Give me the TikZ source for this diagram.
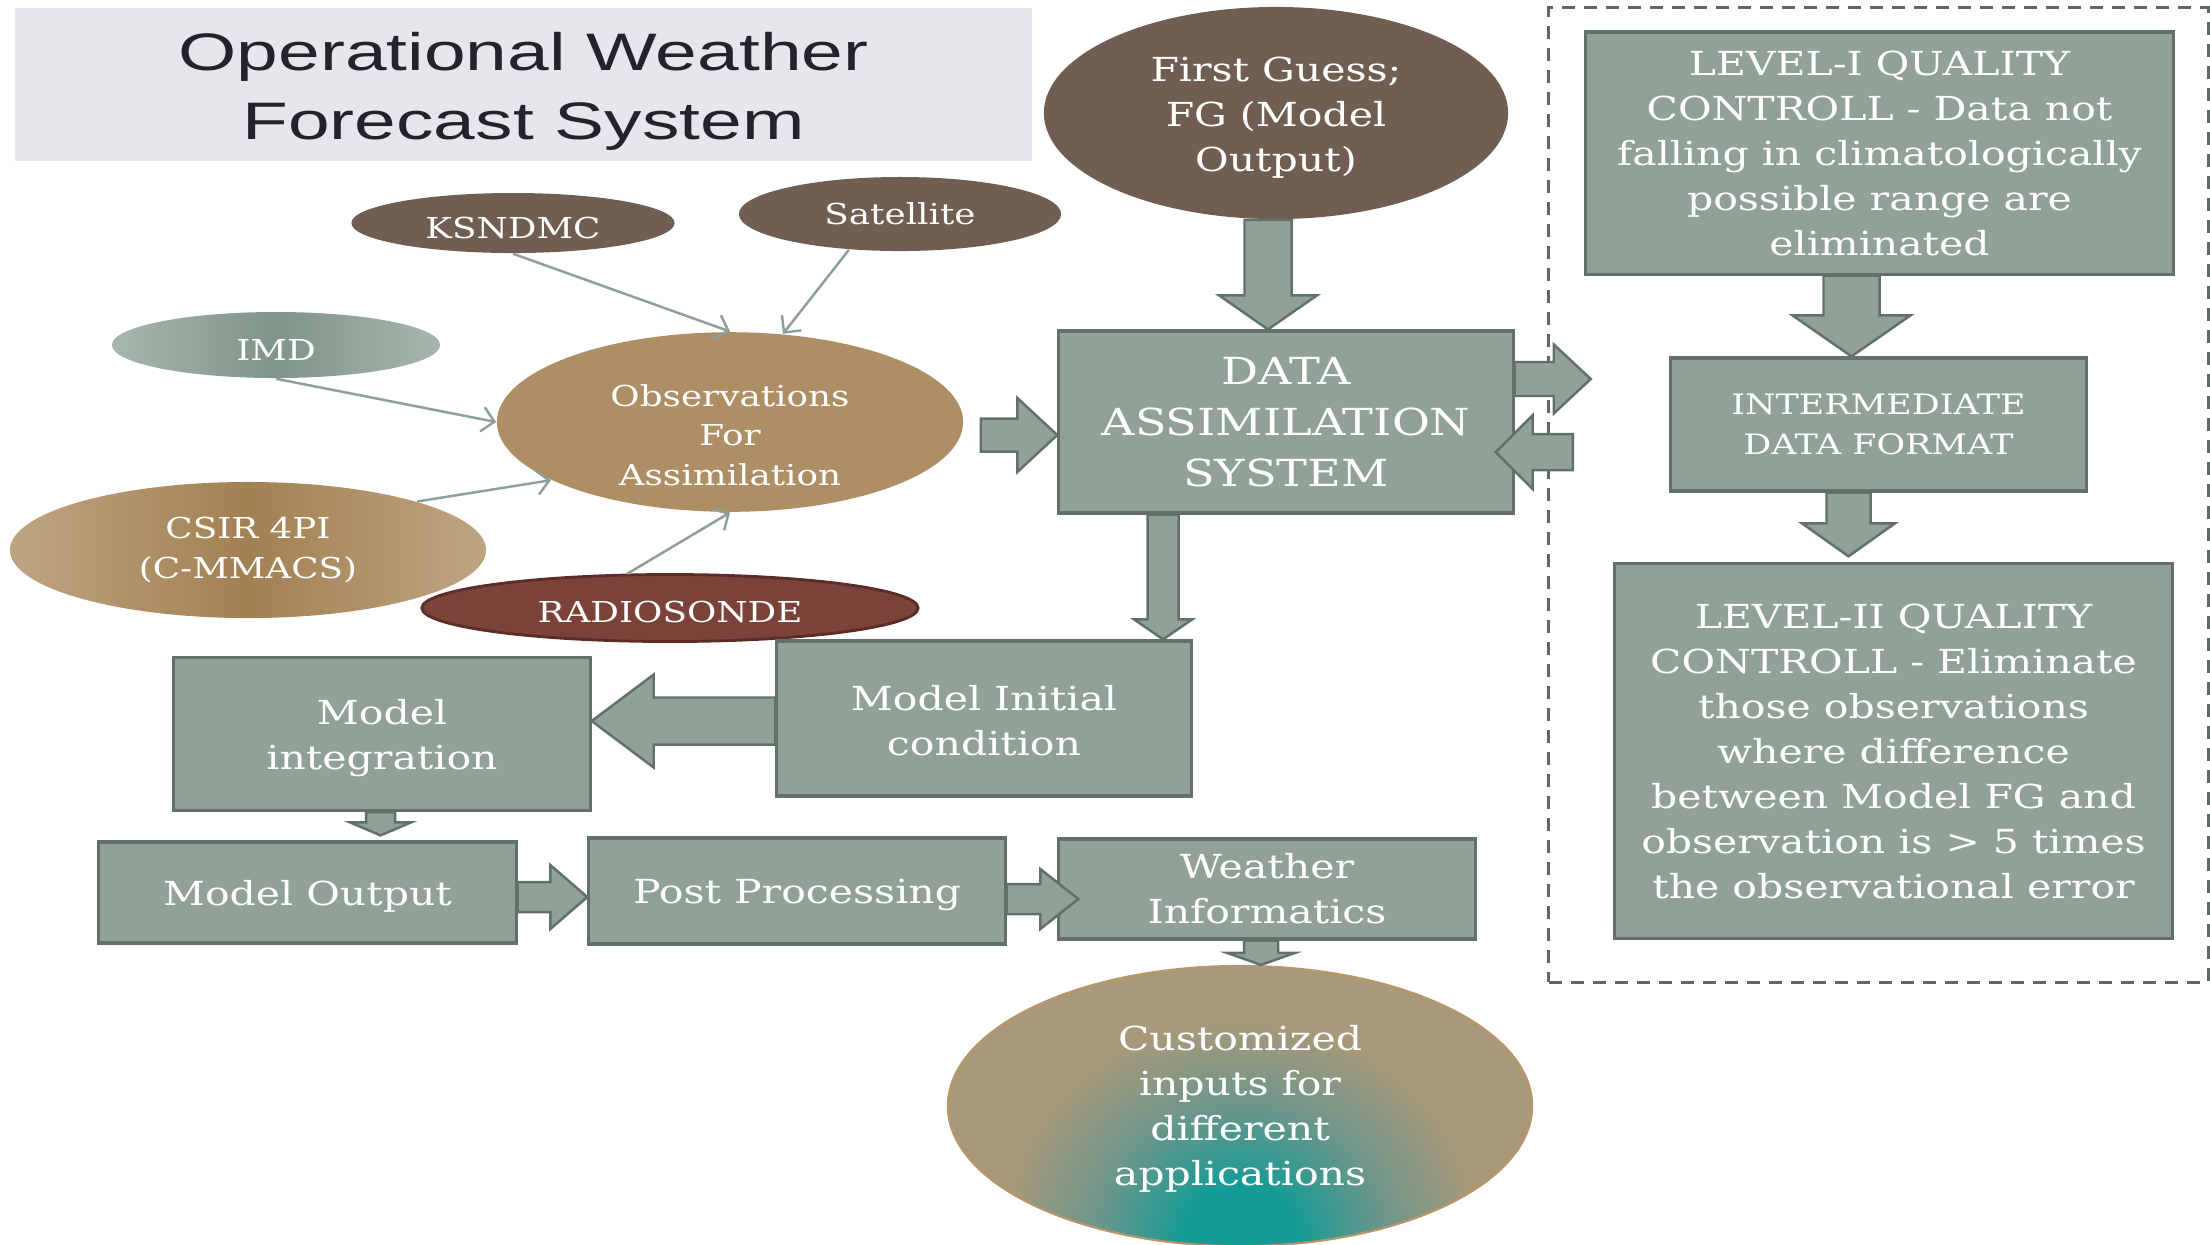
\documentclass[tikz,border=0pt]{standalone}
\usepackage{fontspec}
\setmainfont[FakeStretch=1.24]{DejaVu Serif}
\newfontfamily\titlefont[FakeStretch=1.42]{Liberation Sans}
\usetikzlibrary{shapes.geometric,arrows.meta,calc}

\definecolor{boxfill}{RGB}{145,161,151}
\definecolor{boxline}{RGB}{98,112,105}
\definecolor{brownoval}{RGB}{112,94,82}
\definecolor{tanoval}{RGB}{173,142,101}
\definecolor{tanlight}{RGB}{190,165,130}
\definecolor{tandark}{RGB}{163,128,82}
\definecolor{imdlight}{RGB}{168,182,172}
\definecolor{imddark}{RGB}{128,148,138}
\definecolor{radiofill}{RGB}{122,66,56}
\definecolor{radioline}{RGB}{92,44,38}
\definecolor{titlefill}{RGB}{230,231,235}
\definecolor{titletext}{RGB}{35,35,45}
\definecolor{thinline}{RGB}{140,160,150}
\definecolor{dashline}{RGB}{95,105,100}
\definecolor{custtan}{RGB}{168,153,122}
\definecolor{custmid}{RGB}{110,150,138}
\definecolor{custteal}{RGB}{18,155,150}
\definecolor{custline}{RGB}{185,150,105}

\pgfdeclareradialshading[custtan,custmid,custteal]{custspot}{\pgfpoint{0bp}{0bp}}{color(0bp)=(custteal); color(4bp)=(custteal); color(11bp)=(custmid); color(18bp)=(custtan); color(50bp)=(custtan)}

\newcommand{\fatdown}[5]{\draw[fatarr] let \p1=#1, \p2=#2 in
  (\x2-#3,\y1) -- (\x2+#3,\y1) -- (\x2+#3,\y2+#5) -- (\x2+#4,\y2+#5)
  -- (\x2,\y2) -- (\x2-#4,\y2+#5) -- (\x2-#3,\y2+#5) -- cycle;}
\newcommand{\fatright}[5]{\draw[fatarr] let \p1=#1, \p2=#2 in
  (\x1,\y2-#3) -- (\x2-#5,\y2-#3) -- (\x2-#5,\y2-#4) -- (\x2,\y2)
  -- (\x2-#5,\y2+#4) -- (\x2-#5,\y2+#3) -- (\x1,\y2+#3) -- cycle;}
\newcommand{\fatleft}[5]{\draw[fatarr] let \p1=#1, \p2=#2 in
  (\x1,\y2-#3) -- (\x2+#5,\y2-#3) -- (\x2+#5,\y2-#4) -- (\x2,\y2)
  -- (\x2+#5,\y2+#4) -- (\x2+#5,\y2+#3) -- (\x1,\y2+#3) -- cycle;}

\begin{document}
\begin{tikzpicture}[x=0.01cm, y=-0.01cm,
  box/.style={rectangle, draw=boxline, fill=boxfill, line width=0.9pt, text=white, align=center, inner sep=0pt, font=\fontsize{9.4}{12.8}\selectfont},
  oval/.style={ellipse, text=white, align=center, inner sep=0pt, font=\fontsize{9.4}{12.8}\selectfont},
  smalltext/.style={font=\fontsize{8.2}{11.2}\selectfont},
  bigtext/.style={font=\fontsize{10.6}{14.5}\selectfont},
  titlebox/.style={rectangle, fill=titlefill, text=titletext, align=center, inner sep=0pt, font=\titlefont\fontsize{15}{19.6}\selectfont},
  qcframe/.style={rectangle, draw=dashline, line width=0.8pt, dash pattern=on 0.13cm off 0.09cm},
  fatarr/.style={draw=boxline, fill=boxfill, line width=0.7pt, line join=miter},
  thinarr/.style={draw=thinline, line width=0.7pt, -{Straight Barb[length=3.5pt,width=7pt]}}]

\useasboundingbox (0,0) rectangle (2210,1244);

\node[qcframe, minimum width=6.59cm, minimum height=9.74cm] (qc) at (1878.5,495) {};
\node[titlebox, minimum width=10.17cm, minimum height=1.53cm] (title) at (523.5,84.5) {\rule{0pt}{14.6pt}Operational Weather\\Forecast System};

\node[oval, fill=brownoval, minimum width=4.64cm, minimum height=2.12cm] (fg) at (1276,113) {\rule{0pt}{9.5pt}First Guess;\\FG (Model\\Output)};
\node[oval, smalltext, fill=brownoval, minimum width=3.23cm, minimum height=0.60cm] (ksndmc) at (513,223) {\rule{0pt}{8.8pt}KSNDMC};
\node[oval, smalltext, fill=brownoval, minimum width=3.22cm, minimum height=0.74cm] (sat) at (900,214) {Satellite};
\node[oval, smalltext, left color=imdlight, right color=imdlight, middle color=imddark, minimum width=3.28cm, minimum height=0.66cm] (imd) at (276,345) {\rule{0pt}{8.6pt}IMD};
\node[oval, smalltext, fill=tanoval, minimum width=4.66cm, minimum height=1.53cm] (obs) at (730,422) {\rule{0pt}{13.6pt}Observations\\For\\Assimilation};
\node[oval, smalltext, left color=tanlight, right color=tanlight, middle color=tandark, minimum width=4.76cm, minimum height=1.36cm] (csir) at (248,550) {CSIR 4PI\\(C-MMACS)};
\node[oval, smalltext, fill=radiofill, draw=radioline, line width=0.8pt, minimum width=4.96cm, minimum height=0.67cm] (radio) at (670,608) {\rule{0pt}{8.6pt}RADIOSONDE};

\node[box, bigtext, minimum width=4.54cm, minimum height=1.82cm] (das) at (1286,422) {DATA\\ASSIMILATION\\SYSTEM};
\node[box, minimum width=4.14cm, minimum height=1.55cm] (init) at (984,718.5) {\rule{0pt}{8.6pt}Model Initial\\condition};
\node[box, minimum width=4.16cm, minimum height=1.53cm] (integ) at (382,734) {\rule{0pt}{9.2pt}Model\\integration};
\node[box, minimum width=4.17cm, minimum height=1.01cm] (mout) at (307.5,892.5) {\rule{0pt}{9.6pt}Model Output};
\node[box, minimum width=4.16cm, minimum height=1.06cm] (post) at (797,891) {\rule{0pt}{9.2pt}Post Processing};
\node[box, minimum width=4.16cm, minimum height=1.00cm] (weather) at (1267,889) {Weather\\Informatics};
\node[oval, fill=custtan, draw=custline, line width=0.6pt, minimum width=5.84cm, minimum height=2.80cm,
  path picture={\shade[shading=custspot] ([yshift=0.1cm]path picture bounding box.south) ellipse [x radius=3.3cm, y radius=3.0cm];}] (cust) at (1240,1106) {\rule{0pt}{9pt}Customized\\inputs for\\different\\applications};

\node[box, minimum width=5.87cm, minimum height=2.42cm] (lev1) at (1879.5,153) {LEVEL-I QUALITY\\CONTROLL - Data not\\falling in climatologically\\possible range are\\eliminated};
\node[box, font=\fontsize{8}{11.2}\selectfont, minimum width=4.15cm, minimum height=1.33cm] (inter) at (1878.5,424.5) {INTERMEDIATE\\DATA FORMAT};
\node[box, minimum width=5.57cm, minimum height=3.74cm] (lev2) at (1893.5,751) {LEVEL-II QUALITY\\CONTROLL - Eliminate\\those observations\\where difference\\between Model FG and\\observation is > 5 times\\the observational error};

\fatdown{(fg.south)}{([xshift=-0.18cm]das.north)}{0.235cm}{0.49cm}{0.34cm}
\fatright{([xshift=0.17cm]obs.east)}{([yshift=-0.13cm]das.west)}{0.165cm}{0.37cm}{0.40cm}
\fatright{(das.east)}{([xshift=0.76cm,yshift=0.43cm]das.east)}{0.17cm}{0.345cm}{0.37cm}
\fatleft{([xshift=0.58cm,yshift=-0.30cm]das.east)}{([xshift=-0.19cm,yshift=-0.30cm]das.east)}{0.18cm}{0.37cm}{0.37cm}
\fatdown{(lev1.south)}{([xshift=-0.27cm]inter.north)}{0.28cm}{0.59cm}{0.41cm}
\fatdown{(inter.south)}{([xshift=-0.45cm,yshift=0.06cm]lev2.north)}{0.22cm}{0.465cm}{0.33cm}
\fatdown{(das.south)}{([xshift=1.79cm]init.north)}{0.155cm}{0.29cm}{0.20cm}
\fatleft{(init.west)}{([yshift=0.13cm]integ.east)}{0.235cm}{0.465cm}{0.62cm}
\fatdown{(integ.south)}{([xshift=0.73cm,yshift=0.05cm]mout.north)}{0.145cm}{0.305cm}{0.13cm}
\fatright{(mout.east)}{([yshift=-0.06cm]post.west)}{0.15cm}{0.32cm}{0.37cm}
\fatright{(post.east)}{([xshift=0.21cm,yshift=-0.10cm]weather.west)}{0.15cm}{0.30cm}{0.38cm}
\fatdown{(weather.south)}{([xshift=0.21cm]cust.north)}{0.17cm}{0.34cm}{0.12cm}

\draw[thinarr] (ksndmc.south) -- (obs.north);
\draw[thinarr] (sat.215) -- (obs.59);
\draw[thinarr] (imd.south) -- (obs.west);
\draw[thinarr] (csir.16) -- (obs.198);
\draw[thinarr] (radio.141) -- (obs.south);
\end{tikzpicture}
\end{document}
